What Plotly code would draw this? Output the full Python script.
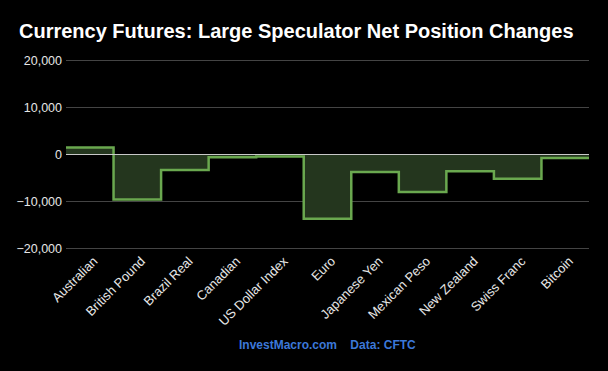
import plotly.graph_objects as go

categories = ["Australian", "British Pound", "Brazil Real", "Canadian", "US Dollar Index",
              "Euro", "Japanese Yen", "Mexican Peso", "New Zealand", "Swiss Franc", "Bitcoin"]
net_changes = [1500, -9600, -3300, -600, -450, -13700, -3750, -8000, -3600, -5200, -750]
y_ticks = [-20000, -10000, 0, 10000, 20000]

n = len(categories)
x_steps = [i - 0.5 for i in range(n)] + [n - 0.5]
y_steps = net_changes + [net_changes[-1]]

W, H = 608, 371
M_T, M_B, M_L, M_R = 59, 121, 66, 19

fig = go.Figure()
fig.add_trace(go.Scatter(
    x=x_steps, y=y_steps, mode="lines", line_shape="hv",
    line=dict(color="#6aa84f", width=2.5),
    fill="tozeroy", fillcolor="#24361e",
    hoverinfo="skip", showlegend=False,
))

plot_h = H - M_T - M_B
yaxis_cfg = dict(range=[-20400, 20400], tickmode="array", tickvals=y_ticks,
                 tickformat=",", showgrid=True, gridcolor="#444444", gridwidth=1,
                 zeroline=True, zerolinecolor="#c8c8c8", zerolinewidth=1.2,
                 showline=False, ticks="", ticklen=0, ticklabelstandoff=3,
                 tickfont=dict(size=12.5, color="#e6e6e6"))

fig.update_layout(
    width=W, height=H,
    paper_bgcolor="#000000", plot_bgcolor="#000000",
    margin=dict(l=M_L, r=M_R, t=M_T, b=M_B),
    font=dict(family="Liberation Sans, Arial, sans-serif", color="#e6e6e6", size=13),
    title=dict(text="<b>Currency Futures: Large Speculator Net Position Changes</b>",
               x=19 / W, xanchor="left", y=1 - 31 / H, yanchor="middle",
               font=dict(size=20, color="#ffffff")),
    xaxis=dict(range=[-0.5, n - 0.5], tickmode="array", tickvals=list(range(n)),
               ticktext=categories, tickangle=-45, showgrid=False, zeroline=False,
               showline=False, ticks="", ticklabelshift=4,
               tickfont=dict(size=13, color="#e6e6e6")),
    yaxis=yaxis_cfg,
    annotations=[dict(text="<b>InvestMacro.com&nbsp;&nbsp;&nbsp;&nbsp;Data: CFTC</b>",
                      x=0.5, xref="paper", y=(H - M_B - 345) / plot_h, yref="paper",
                      yanchor="middle", showarrow=False,
                      font=dict(size=12, color="#3c78d8"))],
)
try:
    fig.update_yaxes(zerolinelayer="above traces")
except Exception:
    pass

fig.write_html("out.html", config={"displayModeBar": False},
               post_script="document.body.style.margin='0';document.body.style.background='#000';")
